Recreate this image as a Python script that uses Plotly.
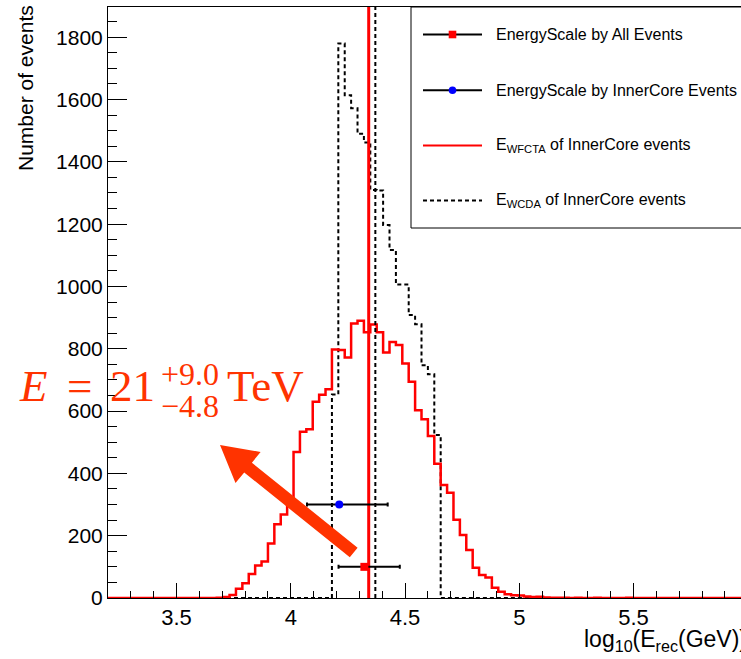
import plotly.graph_objects as go

# ---------------- data ----------------
BIN_LO = 3.2
BIN_W = 0.028
N_BINS = 100

# E_WFCTA of InnerCore events (counts per bin, 100 bins from 3.2 to 6.0)
wfcta_counts = [
    0, 0, 0, 0, 0, 0, 0, 0, 0, 0,
    0, 0, 0, 0, 0, 0, 0, 1, 3, 10,
    30, 47, 77, 104, 117, 175, 237, 268, 303, 469,
    534, 542, 630, 652, 670, 798, 796, 772, 881, 890,
    853, 878, 853, 788, 822, 812, 753, 694, 603, 574,
    520, 431, 363, 338, 251, 202, 154, 97, 74, 66,
    33, 20, 12, 9, 8, 5, 3, 4, 2, 1,
    1, 1, 0, 1, 0, 0, 1, 0, 0, 0,
    0, 1, 0, 0, 0, 0, 0, 0, 0, 0,
    0, 0, 0, 0, 0, 0, 0, 0, 0, 0,
]

# E_WCDA of InnerCore events
wcda_counts = [
    0, 0, 0, 0, 0, 0, 0, 0, 0, 0,
    0, 0, 0, 0, 0, 0, 0, 0, 0, 0,
    0, 0, 0, 0, 0, 0, 0, 0, 0, 0,
    0, 0, 0, 0, 0, 653, 1780, 1614, 1572, 1490,
    1462, 1310, 1308, 1197, 1117, 1006, 1006, 908, 879, 747,
    718, 523, 0, 0, 0, 0, 0, 0, 0, 0,
    0, 0, 0, 0, 0, 0, 0, 0, 0, 0,
    0, 0, 0, 0, 0, 0, 0, 0, 0, 0,
    0, 0, 0, 0, 0, 0, 0, 0, 0, 0,
    0, 0, 0, 0, 0, 0, 0, 0, 0, 0,
]

# energy-scale points (log10 E) with asymmetric errors
all_x = [4.322]
all_y = [100]
all_err_lo = [0.113]
all_err_hi = [0.155]

inner_x = [4.212]
inner_y = [300]
inner_err_lo = [0.141]
inner_err_hi = [0.212]

# vertical reference lines
wfcta_line_x = 4.341
wcda_line_x = 4.370

X_RANGE = [3.2, 5.9703]
Y_RANGE = [0, 1897]

x_tick_vals = [3.5, 4.0, 4.5, 5.0, 5.5]
x_tick_text = ["3.5", "4", "4.5", "5", "5.5"]
y_tick_vals = [0, 200, 400, 600, 800, 1000, 1200, 1400, 1600, 1800]
y_tick_text = ["0", "200", "400", "600", "800", "1000", "1200", "1400", "1600", "1800"]

legend_labels = [
    "EnergyScale by All Events",
    "EnergyScale by InnerCore Events",
    "E<sub>WFCTA</sub> of InnerCore events",
    "E<sub>WCDA</sub> of InnerCore events",
]

# ---------------- layout helpers ----------------
W, H = 741, 659
ML, MR, MT, MB = 108, 0, 7, 61
PW = W - ML - MR
PH = H - MT - MB


def pxx(px):
    return (px - ML) / PW


def pxy(py):
    return (H - MB - py) / PH


edges = [BIN_LO + BIN_W * i for i in range(N_BINS + 1)]

RED = "#ff0000"
ORANGE = "#ff3300"
SANS = "Liberation Sans, Arial, Helvetica, sans-serif"
SERIF = "Liberation Serif, Times New Roman, serif"

fig = go.Figure()

fig.add_trace(go.Scatter(
    x=edges, y=wcda_counts + [wcda_counts[-1]], mode="lines", line_shape="hv",
    line=dict(color="black", width=2, dash="4px,3px"), showlegend=False, hoverinfo="skip"))

fig.add_trace(go.Scatter(
    x=edges, y=wfcta_counts + [wfcta_counts[-1]], mode="lines", line_shape="hv",
    line=dict(color=RED, width=2.5), showlegend=False, hoverinfo="skip"))

fig.add_trace(go.Scatter(
    x=[wcda_line_x, wcda_line_x], y=Y_RANGE, mode="lines",
    line=dict(color="black", width=2, dash="4px,3px"), showlegend=False))

fig.add_trace(go.Scatter(
    x=[wfcta_line_x, wfcta_line_x], y=Y_RANGE, mode="lines",
    line=dict(color=RED, width=3), showlegend=False))

fig.add_trace(go.Scatter(
    x=all_x, y=all_y, mode="markers",
    marker=dict(symbol="square", size=8, color=RED),
    error_x=dict(type="data", symmetric=False, array=all_err_hi, arrayminus=all_err_lo,
                 color="black", thickness=2, width=2),
    showlegend=False))

fig.add_trace(go.Scatter(
    x=inner_x, y=inner_y, mode="markers",
    marker=dict(symbol="circle", size=8, color="blue"),
    error_x=dict(type="data", symmetric=False, array=inner_err_hi, arrayminus=inner_err_lo,
                 color="black", thickness=2, width=2),
    showlegend=False))

shapes = []
annotations = []

# legend box
shapes.append(dict(type="rect", xref="paper", yref="paper",
                   x0=pxx(411), x1=pxx(760), y0=pxy(228), y1=pxy(7),
                   line=dict(color="black", width=1), fillcolor="white", layer="above"))
entry_y = [34.5, 90.3, 145.5, 200.5]
sx0, sx1, sxc = 423, 482, 452.5
# entry 1: black line + red square
shapes.append(dict(type="line", xref="paper", yref="paper", x0=pxx(sx0), x1=pxx(sx1),
                   y0=pxy(entry_y[0]), y1=pxy(entry_y[0]), line=dict(color="black", width=2), layer="above"))
shapes.append(dict(type="rect", xref="paper", yref="paper", x0=pxx(sxc - 3.8), x1=pxx(sxc + 3.8),
                   y0=pxy(entry_y[0] + 3.8), y1=pxy(entry_y[0] - 3.8), line=dict(width=0),
                   fillcolor=RED, layer="above"))
# entry 2: black line + blue circle
shapes.append(dict(type="line", xref="paper", yref="paper", x0=pxx(sx0), x1=pxx(sx1),
                   y0=pxy(entry_y[1]), y1=pxy(entry_y[1]), line=dict(color="black", width=2), layer="above"))
shapes.append(dict(type="circle", xref="paper", yref="paper", x0=pxx(sxc - 3.8), x1=pxx(sxc + 3.8),
                   y0=pxy(entry_y[1] + 3.8), y1=pxy(entry_y[1] - 3.8), line=dict(width=0),
                   fillcolor="blue", layer="above"))
# entry 3: red line
shapes.append(dict(type="line", xref="paper", yref="paper", x0=pxx(sx0), x1=pxx(sx1),
                   y0=pxy(entry_y[2]), y1=pxy(entry_y[2]), line=dict(color=RED, width=2), layer="above"))
# entry 4: dashed black line
shapes.append(dict(type="line", xref="paper", yref="paper", x0=pxx(sx0), x1=pxx(sx1),
                   y0=pxy(entry_y[3]), y1=pxy(entry_y[3]), line=dict(color="black", width=2, dash="4px,3px"),
                   layer="above"))

for lab, ey in zip(legend_labels, entry_y):
    annotations.append(dict(xref="paper", yref="paper", x=pxx(494), y=pxy(ey), text=lab,
                            showarrow=False, xanchor="left", yanchor="middle",
                            font=dict(family=SANS, size=16, color="black")))

# big red arrow (polygon)
arrow_pts = [(357.6, 547.7), (251.9, 462.7), (260.6, 452.0), (220.0, 445.0),
             (235.5, 483.1), (244.2, 472.4), (349.8, 557.3)]
path = "M " + " L ".join(f"{pxx(a):.5f},{pxy(b):.5f}" for a, b in arrow_pts) + " Z"
shapes.append(dict(type="path", xref="paper", yref="paper", path=path,
                   fillcolor=ORANGE, line=dict(width=0), layer="above"))

# energy annotation
def big(text, cx, cy, size):
    annotations.append(dict(xref="paper", yref="paper", x=pxx(cx), y=pxy(cy), text=text,
                            showarrow=False, xanchor="center", yanchor="middle",
                            font=dict(family=SERIF, size=size, color=ORANGE)))

big("<i>E</i>", 33, 386, 45)
big("=", 79, 386, 45)
big("21", 132.5, 386, 45)
big("+9.0", 190, 374, 32)
big("\u22124.8", 190, 406, 32)
big("TeV", 265, 386, 45)

# axis titles
annotations.append(dict(xref="paper", yref="paper", x=pxx(26), y=pxy(88), text="Number of events",
                        textangle=-90, showarrow=False, xanchor="center", yanchor="middle",
                        font=dict(family=SANS, size=21, color="black")))
annotations.append(dict(xref="paper", yref="paper", x=pxx(749), y=pxy(640),
                        text="log<sub>10</sub>(E<sub>rec</sub>(GeV))",
                        showarrow=False, xanchor="right", yanchor="middle",
                        font=dict(family=SANS, size=23, color="black")))
# partially visible last tick label
annotations.append(dict(xref="paper", yref="paper", x=pxx(747.5), y=pxy(620), text="6",
                        showarrow=False, xanchor="center", yanchor="middle",
                        font=dict(family=SANS, size=22, color="black")))

fig.update_layout(
    width=W, height=H,
    margin=dict(l=ML, r=MR, t=MT, b=MB, pad=0),
    paper_bgcolor="white", plot_bgcolor="white",
    showlegend=False,
    shapes=shapes, annotations=annotations,
    font=dict(family=SANS, color="black"),
)
fig.update_xaxes(
    range=X_RANGE, tickvals=x_tick_vals, ticktext=x_tick_text,
    ticks="inside", ticklen=15, tickwidth=1, tickcolor="black",
    minor=dict(dtick=0.1, tick0=0, ticks="inside", ticklen=7, tickwidth=1, tickcolor="black"),
    showgrid=False, zeroline=False, showline=True, linecolor="black", linewidth=1, mirror=True,
    tickfont=dict(family=SANS, size=22, color="black"),
)
fig.update_yaxes(
    range=Y_RANGE, tickvals=y_tick_vals, ticktext=y_tick_text,
    ticks="inside", ticklen=19, tickwidth=1, tickcolor="black",
    minor=dict(dtick=50, tick0=0, ticks="inside", ticklen=9, tickwidth=1, tickcolor="black"),
    showgrid=False, zeroline=False, showline=True, linecolor="black", linewidth=1,
    tickfont=dict(family=SANS, size=21, color="black"),
)

fig.write_html("out.html", config={"displayModeBar": False},
               post_script="document.body.style.margin='0';")
